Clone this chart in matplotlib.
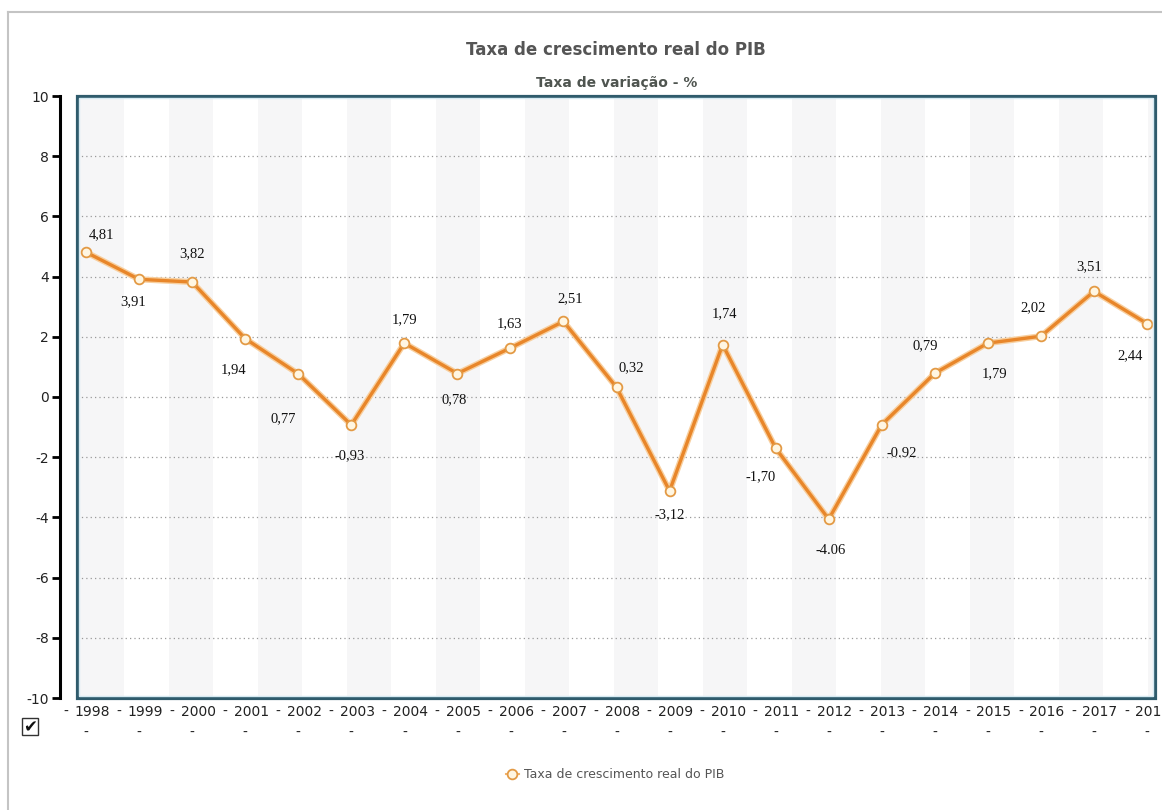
import matplotlib
matplotlib.use("Agg")
import matplotlib.pyplot as plt
from matplotlib.patches import Rectangle
from matplotlib.lines import Line2D
from matplotlib.transforms import blended_transform_factory, offset_copy

# data
years = [1998, 1999, 2000, 2001, 2002, 2003, 2004, 2005, 2006, 2007, 2008,
         2009, 2010, 2011, 2012, 2013, 2014, 2015, 2016, 2017, 2018]
growth = [4.81, 3.91, 3.82, 1.94, 0.77, -0.93, 1.79, 0.78, 1.63, 2.51, 0.32,
          -3.12, 1.74, -1.70, -4.06, -0.92, 0.79, 1.79, 2.02, 3.51, 2.44]
value_labels = ["4,81", "3,91", "3,82", "1,94", "0,77", "-0,93", "1,79", "0,78",
                "1,63", "2,51", "0,32", "-3,12", "1,74", "-1,70", "-4.06", "-0.92",
                "0,79", "1,79", "2,02", "3,51", "2,44"]
yticks = [-10, -8, -6, -4, -2, 0, 2, 4, 6, 8, 10]

title = "Taxa de crescimento real do PIB"
subtitle = "Taxa de variação - %"
series_name = "Taxa de crescimento real do PIB"

# label offsets in pixels (dx right, dy up)
label_offsets = [(15, 18), (-6, -22), (0, 28), (-12, -31), (-15, -45), (-2, -31),
                 (0, 23), (-3, -26), (-1, 24), (7, 23), (15, 20), (0, -24),
                 (2, 31), (-15, -29), (2, -31), (20, -29), (-10, 28), (7, -31),
                 (-8, 29), (-5, 25), (-17, -32)]

W, H = 1162, 810
fig = plt.figure(figsize=(W / 100, H / 100), dpi=100)
fig.patch.set_facecolor("white")

L, R, T, B = 77, 1155, 96, 698
ax = fig.add_axes([L / W, 1 - B / H, (R - L) / W, (B - T) / H])
ax.set_facecolor("white")

# alternating background bands
for k in range(13):
    x0 = (80 + 89 * k - L) / (R - L)
    ax.add_patch(Rectangle((x0, 0), 44 / (R - L), 1, transform=ax.transAxes,
                           facecolor="#f6f6f7", edgecolor="none", zorder=0))

for yv in yticks[1:-1]:
    ax.axhline(yv, color="#9a9a9a", lw=0.9, ls=(0, (1, 2.5)), zorder=1)

x = list(range(len(years)))
ax.plot(x, growth, color="#f8cf9e", lw=4.4, zorder=2, solid_capstyle="round")
ax.plot(x, growth, color="#e8862a", lw=2.4, zorder=3, marker="o", ms=7,
        mfc="#fff6e2", mec="#e39a45", mew=1.3, label=series_name)

for xi, yi, txt, (dx, dy) in zip(x, growth, value_labels, label_offsets):
    ax.annotate(txt, (xi, yi), xytext=(dx, dy), textcoords="offset pixels",
                ha="center", va="center", fontsize=10.5,
                family="Liberation Serif", color="#111111", zorder=5)

ax.set_xlim(-0.17, 20.15)
ax.set_ylim(-10, 10)

# frame
for s in ["top", "right", "bottom"]:
    ax.spines[s].set_visible(False)
ax.add_patch(Rectangle((0, 0), 1, 1, transform=ax.transAxes, fill=False,
                       edgecolor="#2f5b6c", lw=2.3, zorder=6, clip_on=False))
ax.add_patch(Rectangle((0.002, 0.003), 0.996, 0.994, transform=ax.transAxes,
                       fill=False, edgecolor="#d6eaf2", lw=1.0, zorder=6, clip_on=False))

ax.spines["left"].set_position(("outward", 12))
ax.spines["left"].set_color("black")
ax.spines["left"].set_linewidth(2.2)
ax.set_yticks(yticks)
ax.set_yticklabels([str(v) for v in yticks])
ax.tick_params(axis="y", length=6, width=2, color="black", pad=2,
               labelsize=10, labelcolor="#222222")
ax.set_xticks([])

# x labels: "- 1998 - 1999 - ..." with a dash under each year
trans = blended_transform_factory(ax.transData, ax.transAxes)
shifted = offset_copy(trans, fig=fig, x=6, y=0, units="dots")
yrow1 = -14 / (B - T)
yrow2 = -35 / (B - T)
for xi, yr in zip(x, years):
    ax.text(xi, yrow1, str(yr), transform=shifted, ha="center", va="center",
            fontsize=10, color="#222222", clip_on=False)
    ax.text(xi - 0.5, yrow1, "-", transform=shifted, ha="center", va="center",
            fontsize=10, color="#222222", clip_on=False)
    ax.text(xi, yrow2, "-", transform=trans, ha="center", va="center",
            fontsize=10, color="#222222", clip_on=False)
ax.text(x[-1] + 0.5, yrow1, "-", transform=shifted, ha="center", va="center",
        fontsize=10, color="#222222", clip_on=False)

# titles
fig.text(616 / W, 1 - 50 / H, title, ha="center", va="center",
         fontsize=12, fontweight="bold", color="#555555")
fig.text(617 / W, 1 - 83 / H, subtitle, ha="center", va="center",
         fontsize=10, fontweight="bold", color="#4f5550")

# outer border
fig.add_artist(Line2D([8 / W, 1], [1 - 12 / H, 1 - 12 / H], transform=fig.transFigure,
                      color="#c4c4c4", lw=1.5))
fig.add_artist(Line2D([8 / W, 8 / W], [0, 1 - 12 / H], transform=fig.transFigure,
                      color="#c4c4c4", lw=1.5))

# checkbox
fig.add_artist(Rectangle((22 / W, 1 - 735 / H), 16 / W, 17 / H, transform=fig.transFigure,
                         fill=False, edgecolor="#333333", lw=1.0))
fig.text(30 / W, 1 - 727 / H, "\u2714", ha="center", va="center", fontsize=12,
         color="#111111", family="DejaVu Sans")

# legend
fig.legend(handles=[Line2D([], [], color="#f2b46e", lw=1.5, marker="o", ms=7,
                           mfc="#fff6e2", mec="#e39a45", mew=1.3)],
           labels=[series_name], loc="center", bbox_to_anchor=(615 / W, 1 - 775 / H),
           frameon=False, fontsize=9, labelcolor="#555555", handlelength=1.0,
           handletextpad=0.4)

fig.savefig("out.png", dpi=100)
